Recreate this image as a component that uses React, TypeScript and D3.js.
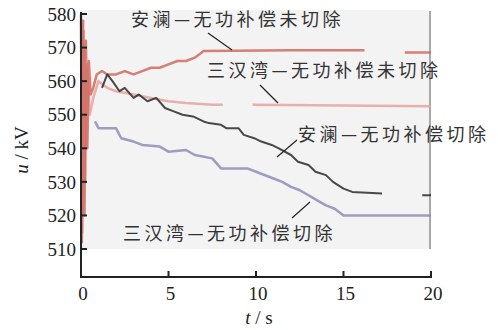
import React, { useEffect, useRef } from 'react';
import * as d3 from 'd3';

// time (s) and voltage (kV); null = gap in the trace
const anlanUncutT = [0, 0.05, 0.12, 0.2, 0.28, 0.36, 0.45, 0.55, 0.7, 0.9, 1.2, 1.5, 2, 2.5, 3, 3.5, 4, 4.5, 5, 5.5, 6, 6.5, 6.9, 7, 12, 16.2, 16.3, 18.4, 18.5, 20];
const anlanUncutV = [580, 512, 578, 520, 572, 540, 566, 556, 558, 562, 563, 562, 562, 563, 562, 563, 564, 564, 565, 566, 566, 567, 568.5, 569, 569.2, 569.2, null, null, 568.5, 568.5];

const sanhanUncutT = [0, 0.08, 0.16, 0.25, 0.35, 0.5, 0.7, 1, 1.5, 2, 3, 4, 5, 6, 7.5, 8.1, 8.2, 9.7, 9.8, 20];
const sanhanUncutV = [578, 515, 575, 530, 565, 550, 555, 560, 558, 557, 556, 555, 554, 553.5, 553, 553, null, null, 553, 552.5];

const anlanCutT = [1.2, 1.5, 1.8, 2.2, 2.5, 3.0, 3.3, 3.8, 4.3, 4.8, 5.3, 5.8, 6.4, 7.0, 7.3, 8.0, 8.3, 9.0, 9.3, 9.9, 10.3, 10.9, 11.3, 12.0, 12.4, 13.0, 13.4, 14.0, 14.4, 15.0, 15.5, 17.2, 17.3, 19.4, 19.5, 20];
const anlanCutV = [558, 562, 560, 557, 558, 555, 556, 554, 555, 552, 551, 550, 549.5, 548, 547.5, 547, 546, 546, 544, 543, 542, 541, 540, 538, 536, 535, 533, 532, 530, 528, 527, 526.5, null, null, 526, 526];

const sanhanCutT = [0.8, 1, 2, 2.3, 3, 3.5, 4.5, 5, 6, 6.5, 7.5, 8, 9.5, 10, 11, 11.5, 12, 12.5, 13, 13.5, 14, 14.5, 15, 20];
const sanhanCutV = [548, 546, 546, 543, 542, 541, 540.5, 539, 539.5, 538, 537, 534, 534, 533, 531, 530, 528.5, 527.5, 526, 524.5, 523, 522, 520, 520];

const xTicks = [0, 5, 10, 15, 20];
const yTicks = [510, 520, 530, 540, 550, 560, 570, 580];

const labels = ['安澜—无功补偿未切除', '三汉湾—无功补偿未切除', '安澜—无功补偿切除', '三汉湾—无功补偿切除'];

const App = () => {
  const svgRef = useRef(null);

  useEffect(() => {
    const width = 498;
    const height = 330;
    const svg = d3.select(svgRef.current)
      .attr('width', width)
      .attr('height', height);
    svg.selectAll('*').remove();

    const x = d3.scaleLinear().domain([0, 20]).range([81, 431]);
    const y = d3.scaleLinear().domain([510, 580]).range([249, 14]);
    const axisY = 277;
    const serif = '"Liberation Serif", "Times New Roman", serif';
    const cjk = '"Noto Sans CJK SC", sans-serif';

    svg.append('rect')
      .attr('width', width).attr('height', height)
      .attr('fill', '#fff');

    // light plot background
    svg.append('rect')
      .attr('x', 82).attr('y', 10)
      .attr('width', 348).attr('height', 239)
      .attr('fill', '#f3f3f3');
    svg.append('line')
      .attr('x1', 430).attr('x2', 430).attr('y1', 11).attr('y2', 249)
      .attr('stroke', '#a8a8a8').attr('stroke-width', 2);

    const series = [
      { t: sanhanUncutT, v: sanhanUncutV, color: '#e6a39d', w: 2.5 },
      { t: anlanUncutT, v: anlanUncutV, color: '#cf6a60', w: 2.5 },
      { t: sanhanCutT, v: sanhanCutV, color: '#8f8cb8', w: 2.5 },
      { t: anlanCutT, v: anlanCutV, color: '#2a2a2a', w: 2 },
    ];

    const line = d3.line()
      .defined(d => d[1] !== null)
      .x(d => x(d[0]))
      .y(d => y(d[1]));

    series.forEach(s => {
      const pts = s.t.map((t, i) => [t, s.v[i]]);
      svg.append('path')
        .attr('d', line(pts))
        .attr('fill', 'none')
        .attr('stroke', s.color)
        .attr('stroke-width', s.w)
        .attr('stroke-opacity', 0.85)
        .attr('stroke-linejoin', 'round');
    });

    // axes
    const axisColor = '#222';
    svg.append('line')
      .attr('x1', 81).attr('x2', 81).attr('y1', 12).attr('y2', axisY + 1)
      .attr('stroke', axisColor).attr('stroke-width', 2);
    svg.append('line')
      .attr('x1', 80).attr('x2', 432).attr('y1', axisY).attr('y2', axisY)
      .attr('stroke', axisColor).attr('stroke-width', 2);

    yTicks.forEach(v => {
      svg.append('line')
        .attr('x1', 81).attr('x2', 87).attr('y1', y(v)).attr('y2', y(v))
        .attr('stroke', axisColor).attr('stroke-width', 2);
      svg.append('text')
        .attr('x', 76).attr('y', y(v))
        .attr('dy', '0.35em')
        .attr('text-anchor', 'end')
        .attr('font-family', serif)
        .attr('font-size', 19)
        .attr('fill', '#222')
        .text(v);
    });

    xTicks.forEach(t => {
      svg.append('line')
        .attr('x1', x(t)).attr('x2', x(t)).attr('y1', axisY).attr('y2', axisY - 6)
        .attr('stroke', axisColor).attr('stroke-width', 2);
      svg.append('text')
        .attr('x', x(t) + 2).attr('y', 300)
        .attr('text-anchor', 'middle')
        .attr('font-family', serif)
        .attr('font-size', 19)
        .attr('fill', '#222')
        .text(t);
    });

    // axis titles
    const yl = svg.append('text')
      .attr('transform', 'translate(28,150) rotate(-90)')
      .attr('text-anchor', 'middle')
      .attr('font-family', serif)
      .attr('font-size', 19)
      .attr('fill', '#222');
    yl.append('tspan').attr('font-style', 'italic').text('u');
    yl.append('tspan').text(' / kV');

    const xl = svg.append('text')
      .attr('x', 259).attr('y', 324)
      .attr('text-anchor', 'middle')
      .attr('font-family', serif)
      .attr('font-size', 19)
      .attr('fill', '#222');
    xl.append('tspan').attr('font-style', 'italic').text('t');
    xl.append('tspan').text(' / s');

    // annotations
    const ann = [
      { text: labels[0], x: 131, y: 25.5, lx1: 208, ly1: 33, lx2: 232, ly2: 50 },
      { text: labels[1], x: 207, y: 77, lx1: 260, ly1: 85, lx2: 278, ly2: 103 },
      { text: labels[2], x: 298, y: 141, lx1: 297, ly1: 140, lx2: 277, ly2: 157 },
      { text: labels[3], x: 123, y: 240, lx1: 292, ly1: 218, lx2: 310, ly2: 202 },
    ];
    ann.forEach(a => {
      svg.append('text')
        .attr('x', a.x).attr('y', a.y)
        .attr('font-family', cjk)
        .attr('font-size', 18)
        .attr('letter-spacing', 3.5)
        .attr('fill', '#333')
        .text(a.text);
      svg.append('line')
        .attr('x1', a.lx1).attr('y1', a.ly1).attr('x2', a.lx2).attr('y2', a.ly2)
        .attr('stroke', '#222').attr('stroke-width', 1.2);
    });
  }, []);

  return (
    <svg ref={svgRef} style={{ position: 'absolute', left: 0, top: 0, display: 'block' }}></svg>
  );
};

export default App;
